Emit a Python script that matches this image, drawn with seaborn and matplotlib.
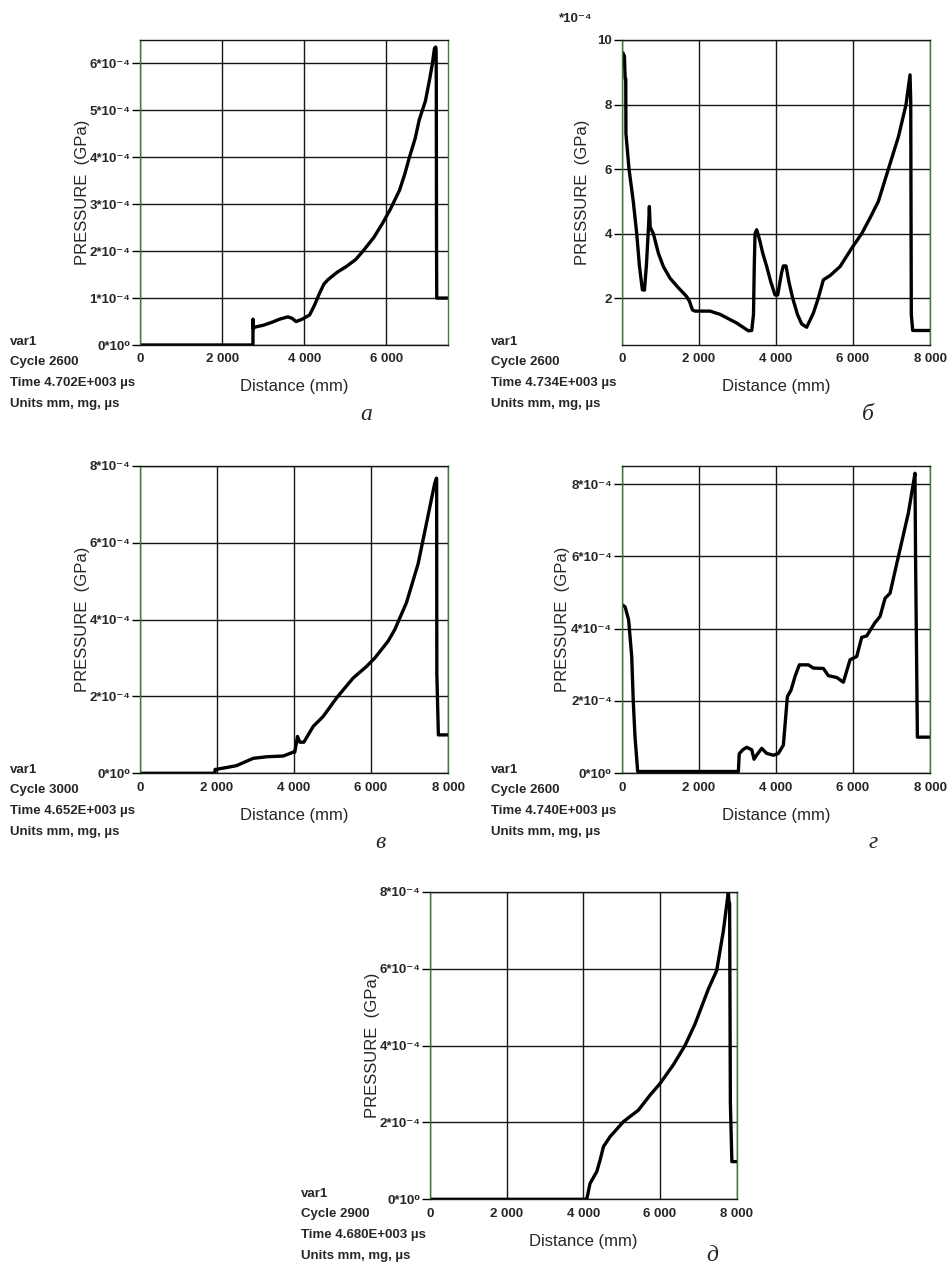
import numpy as np
import pandas as pd
import matplotlib.pyplot as plt
import seaborn as sns

# ----------------------------------------
# Data (pressure in 1e-4 GPa, distance in mm)
# ----------------------------------------
x_a = [0, 2750, 2752, 2760, 2790, 3000, 3200, 3400, 3600, 3700, 3800, 3950,
       4130, 4250, 4370, 4480, 4575, 4800, 5020, 5250, 5430, 5700, 5910, 6100,
       6320, 6450, 6560, 6700, 6800, 6950, 7050, 7120, 7170, 7200, 7210, 7215,
       7220, 7226, 7500]
y_a = [0, 0, 0.55, 0.35, 0.38, 0.42, 0.48, 0.55, 0.6, 0.57, 0.5, 0.55,
       0.64, 0.85, 1.1, 1.3, 1.39, 1.55, 1.67, 1.82, 2.0, 2.3, 2.6, 2.9,
       3.3, 3.65, 4.0, 4.4, 4.8, 5.2, 5.65, 6.0, 6.32, 6.35, 6.3, 5.6,
       2.27, 1.0, 1.0]

x_b = [0, 30, 70, 90, 105, 110, 190, 300, 390, 460, 536, 590, 640, 700, 718,
       740, 822, 950, 1081, 1254, 1450, 1687, 1760, 1834, 1900, 2292, 2552,
       2984, 3287, 3374, 3420, 3440, 3460, 3503, 3580, 3659, 3763, 3870, 3979,
       4048, 4150, 4195, 4264, 4340, 4437, 4560, 4671, 4800, 4974, 5100, 5233,
       5406, 5666, 5969, 6228, 6450, 6660, 6920, 7180, 7378, 7482, 7500, 7515,
       7551, 8000]
y_b = [9.4, 9.6, 9.5, 8.8, 8.8, 7.1, 6.0, 5.0, 4.0, 3.0, 2.26, 2.25, 3.0, 4.3,
       4.84, 4.2, 4.0, 3.4, 2.98, 2.62, 2.35, 2.05, 1.9, 1.64, 1.6, 1.6, 1.5,
       1.23, 0.99, 1.0, 1.5, 3.0, 4.0, 4.12, 3.8, 3.4, 2.98, 2.5, 2.1,
       2.1, 2.8, 3.0, 3.0, 2.5, 2.0, 1.5, 1.2, 1.1, 1.54, 2.0, 2.57,
       2.7, 2.98, 3.55, 4.0, 4.5, 5.0, 6.0, 7.0, 8.0, 8.92, 8.1, 1.5,
       1.0, 1.0]

x_c = [0, 1946, 1950, 2249, 2509, 2941, 3287, 3720, 3980, 4020, 4091, 4152,
       4256, 4498, 4758, 5104, 5277, 5536, 5882, 6098, 6444, 6617, 6920, 7223,
       7439, 7655, 7698, 7705, 7710, 7750, 8000]
y_c = [0, 0, 0.1, 0.15, 0.2, 0.39, 0.43, 0.45, 0.55, 0.55, 0.96, 0.81,
       0.81, 1.22, 1.48, 1.96, 2.17, 2.48, 2.78, 3.0, 3.44, 3.74, 4.44, 5.45,
       6.5, 7.55, 7.68, 7.68, 2.6, 1.0, 1.0]

x_d = [0, 30, 90, 180, 260, 300, 345, 415, 3027, 3050, 3140, 3244, 3374,
       3434, 3500, 3633, 3763, 3936, 4066, 4195, 4299, 4394, 4498, 4610, 4844,
       4974, 5233, 5363, 5579, 5752, 5925, 6098, 6228, 6358, 6574, 6704, 6834,
       6963, 7180, 7439, 7595, 7610, 7625, 7673, 8000]
y_d = [4.65, 4.65, 4.6, 4.24, 3.23, 2.0, 1.01, 0.05, 0.05, 0.54, 0.65, 0.72,
       0.65, 0.39, 0.5, 0.69, 0.55, 0.5, 0.55, 0.78, 2.12, 2.3, 2.68, 3.0, 3.0,
       2.91, 2.9, 2.7, 2.65, 2.52, 3.14, 3.23, 3.76, 3.8, 4.17, 4.34, 4.84,
       4.98, 6.0, 7.2, 8.2, 8.3, 6.0, 1.0, 1.0]

x_e = [0, 4087, 4120, 4174, 4350, 4437, 4524, 4698, 5046, 5437, 5741, 6000,
       6348, 6652, 6913, 7261, 7478, 7652, 7783, 7800, 7815, 7835, 7874, 8000]
y_e = [0, 0, 0.15, 0.41, 0.72, 1.02, 1.37, 1.63, 2.02, 2.32, 2.71, 3.01,
       3.5, 4.0, 4.56, 5.47, 5.95, 6.98, 8.0, 7.7, 7.7, 2.5, 0.98, 0.98]

# info text blocks
info_a = ['var1', 'Cycle 2600', 'Time 4.702E+003 µs', 'Units mm, mg, µs']
info_b = ['var1', 'Cycle 2600', 'Time 4.734E+003 µs', 'Units mm, mg, µs']
info_c = ['var1', 'Cycle 3000', 'Time 4.652E+003 µs', 'Units mm, mg, µs']
info_d = ['var1', 'Cycle 2600', 'Time 4.740E+003 µs', 'Units mm, mg, µs']
info_e = ['var1', 'Cycle 2900', 'Time 4.680E+003 µs', 'Units mm, mg, µs']

x_ticks_7500 = [0, 2000, 4000, 6000]
x_ticks_8000 = [0, 2000, 4000, 6000, 8000]
x_tick_labels = ['0', '2 000', '4 000', '6 000', '8 000']

# ==========================
# Plotting
# ==========================
sns.set_style('white')
plt.rcParams['font.family'] = ['Liberation Sans', 'DejaVu Sans']

fig = plt.figure(figsize=(9.48, 12.7), dpi=100)

FONTS = ['Liberation Sans', 'DejaVu Sans']
W, H = 948, 1270


def sci_label(v):
    if v == 0:
        return '0*10\u2070'
    return f'{v:g}*10\u207b\u2074'


def make_panel(rect_px, xs, ys, xlim, ylim, xticks, yticks, ytick_labels,
               ylabel_x, info, info_x, info_y, letter, letter_xy):
    l, t, r, b = rect_px
    ax = fig.add_axes([l / W, 1 - b / H, (r - l) / W, (b - t) / H])
    df = pd.DataFrame({'x': xs, 'y': ys})
    sns.lineplot(data=df, x='x', y='y', ax=ax, color='black', lw=2.4,
                 estimator=None, sort=False)
    ax.set_xlim(*xlim)
    ax.set_ylim(*ylim)
    ax.set_xticks(xticks)
    ax.set_xticklabels(x_tick_labels[:len(xticks)], fontweight='bold',
                       fontsize=9.5, family=FONTS)
    ax.set_yticks(yticks)
    ax.set_yticklabels(ytick_labels, fontweight='bold', fontsize=9.5,
                       family=FONTS)
    ax.tick_params(axis='x', length=0, pad=6)
    ax.tick_params(axis='y', length=6, width=1, color='black', pad=1,
                   direction='out', left=True)
    ax.grid(True, color='#101810', lw=1)
    ax.set_axisbelow(True)
    for s in ['left', 'right']:
        ax.spines[s].set_color('#3d7a3d')
        ax.spines[s].set_linewidth(1)
    for s in ['top', 'bottom']:
        ax.spines[s].set_color('#101810')
        ax.spines[s].set_linewidth(1)
    ax.set_xlabel('Distance (mm)', fontsize=12, family=FONTS)
    ax.set_ylabel('PRESSURE  (GPa)', fontsize=12, family=FONTS)
    ax.xaxis.set_label_coords(0.5, -0.112)
    ax.yaxis.set_label_coords(ylabel_x, 0.5)
    # info lines at the lower left
    for i, line in enumerate(info):
        fig.text(info_x / W, 1 - (info_y + i * 20.5) / H, line,
                 fontsize=9.5, fontweight='bold', family=FONTS,
                 va='baseline', ha='left')
    fig.text(letter_xy[0] / W, 1 - letter_xy[1] / H, letter,
             fontsize=17, style='italic', family='Liberation Serif',
             ha='center', va='baseline')
    return ax


yt_a = [0, 1, 2, 3, 4, 5, 6]
ax_a = make_panel((140, 40, 448, 345), x_a, y_a, (0, 7500), (0, 6.5),
                  x_ticks_7500, yt_a, [sci_label(v) for v in yt_a], -0.162,
                  info_a, 10, 345, 'а', (366, 420))

yt_b = [2, 4, 6, 8, 10]
ax_b = make_panel((621.7, 40, 930, 345), x_b, y_b, (0, 8000), (0.55, 10),
                  x_ticks_8000, yt_b, [str(v) for v in yt_b], -0.103,
                  info_b, 491, 345, 'б', (868, 420))
fig.text(592 / W, 1 - 22 / H, '*10\u207b\u2074', fontsize=9.5,
         fontweight='bold', family=FONTS, ha='right', va='baseline')

yt_c = [0, 2, 4, 6, 8]
ax_c = make_panel((140, 466, 448, 773.3), x_c, y_c, (0, 8000), (0, 8),
                  x_ticks_8000, yt_c, [sci_label(v) for v in yt_c], -0.162,
                  info_c, 10, 773, 'в', (380, 848))

ax_d = make_panel((621.7, 466, 930, 773.3), x_d, y_d, (0, 8000), (0, 8.5),
                  x_ticks_8000, yt_c, [sci_label(v) for v in yt_c], -0.168,
                  info_d, 491, 773, 'г', (873, 848))

ax_e = make_panel((430, 891.7, 736.7, 1199.3), x_e, y_e, (0, 8000), (0, 8),
                  x_ticks_8000, yt_c, [sci_label(v) for v in yt_c], -0.163,
                  info_e, 301, 1197, 'д', (712, 1261))

plt.savefig('out.png', dpi=100)
plt.close('all')
